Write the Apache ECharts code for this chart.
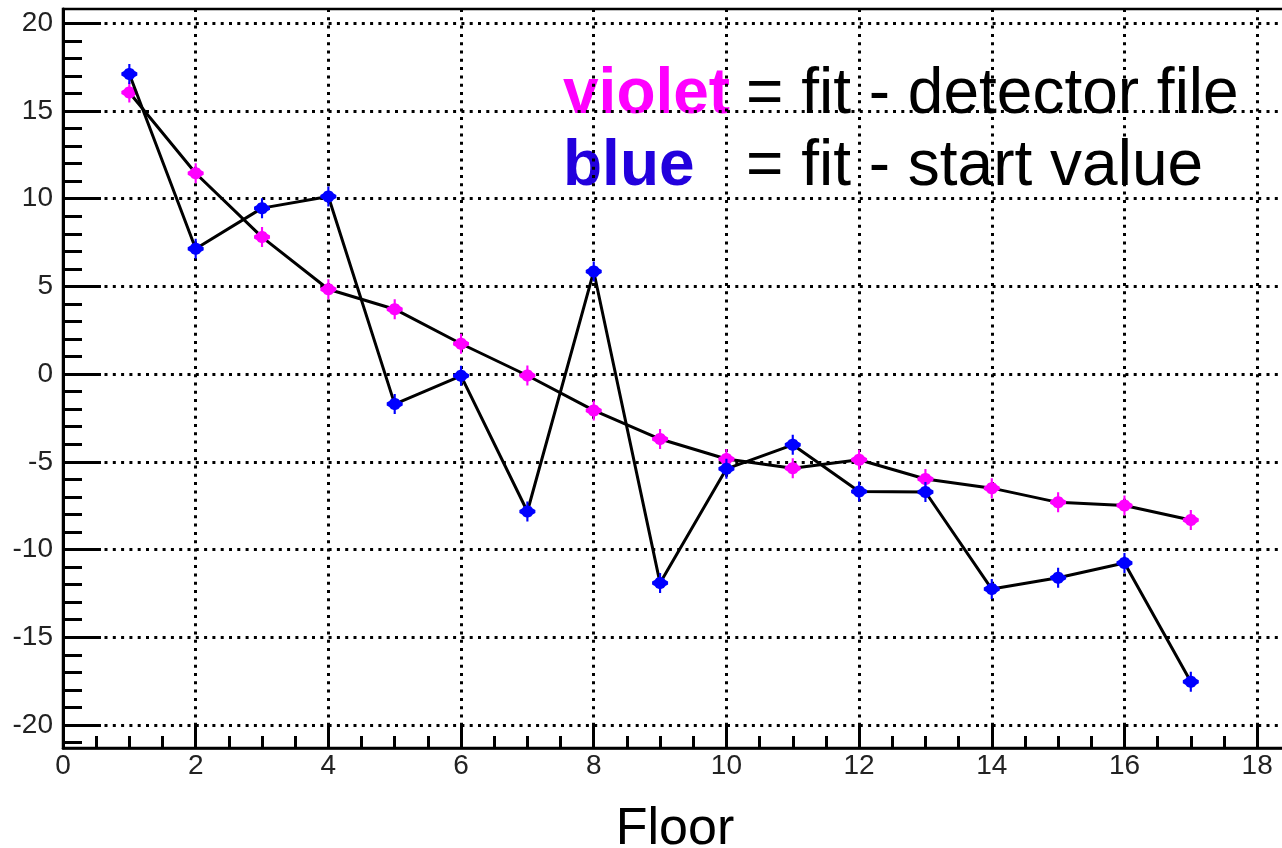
<!DOCTYPE html>
<html>
<head>
<meta charset="utf-8">
<script src="https://cdn.jsdelivr.net/npm/echarts@6/dist/echarts.min.js"></script>
<style>
html,body{margin:0;padding:0;background:#fff;}
#chart{width:1282px;height:848px;}
</style>
</head>
<body>
<div id="chart"></div>
<script>
// ---- data ----
const floors = [1,2,3,4,5,6,7,8,9,10,11,12,13,14,15,16,17];
const violetValues = [16.05, 11.45, 7.81, 4.84, 3.70, 1.73, -0.08, -2.07, -3.70, -4.84, -5.36, -4.88, -5.98, -6.50, -7.31, -7.49, -8.32];
const blueValues = [17.11, 7.14, 9.46, 10.12, -1.71, -0.10, -7.83, 5.85, -11.91, -5.40, -4.03, -6.69, -6.72, -12.25, -11.61, -10.77, -17.53];
const xMajorTicks = [0,2,4,6,8,10,12,14,16,18];
const xMinorTicks = [0,0.5,1,1.5,2,2.5,3,3.5,4,4.5,5,5.5,6,6.5,7,7.5,8,8.5,9,9.5,10,10.5,11,11.5,12,12.5,13,13.5,14,14.5,15,15.5,16,16.5,17,17.5,18];
const yMajorTicks = [-20,-15,-10,-5,0,5,10,15,20];
const yMinorTicks = [-21,-20,-19,-18,-17,-16,-15,-14,-13,-12,-11,-10,-9,-8,-7,-6,-5,-4,-3,-2,-1,0,1,2,3,4,5,6,7,8,9,10,11,12,13,14,15,16,17,18,19,20];
const xTitle = 'Floor';
const legendLines = [
  {word: 'violet', rest: '= fit - detector file', color: '#ff00ff'},
  {word: 'blue', rest: '= fit - start value', color: '#2200dd'}
];

// ---- chart ----
const chart = echarts.init(document.getElementById('chart'), null, {renderer: 'canvas'});
const FONT = '"Liberation Sans", Arial, sans-serif';
const markerPath = 'path://M-1,-10 L1,-10 L1,-6 L3.5,-5 L5,-3 L7.5,-1.5 L7.5,1.5 L5,3 L3.5,5 L1,6 L1,10 L-1,10 L-1,6 L-3.5,5 L-5,3 L-7.5,1.5 L-7.5,-1.5 L-5,-3 L-3.5,-5 L-1,-6 Z';
const dotted = {color: '#000', width: 3, type: [3, 5.3]};

function pairs(xs, ys){ return xs.map((x,i)=>[x, ys[i]]); }

const graphics = [];
legendLines.forEach((l, i) => {
  const y = 92 + i * 72;
  graphics.push({type:'text', left: 563, top: y - 29, style:{text: l.word, fill: l.color, font: 'bold 64px ' + FONT}});
  graphics.push({type:'text', left: 746, top: y - 29, style:{text: l.rest, fill: '#000', font: '64px ' + FONT}});
});

chart.setOption({
  animation: false,
  backgroundColor: '#fff',
  grid: {left: 63, right: -5, top: 9, bottom: 100, containLabel: false, outerBoundsMode: 'none',
         show: true, borderColor: '#000', borderWidth: 2.5, backgroundColor: 'transparent'},
  xAxis: [
    {
      type: 'value', min: 0, max: 18.45, position: 'bottom',
      name: xTitle, nameLocation: 'middle', nameGap: 56,
      nameTextStyle: {fontSize: 52, color: '#000', fontFamily: FONT},
      axisLine: {show: true, onZero: false, lineStyle: {color: '#000', width: 2.5}},
      axisTick: {show: true, inside: true, length: 23, customValues: xMajorTicks, lineStyle: {color: '#000', width: 3}},
      axisLabel: {show: true, customValues: xMajorTicks, margin: 4, fontSize: 28, color: '#222', fontFamily: FONT},
      splitLine: {show: true, lineStyle: dotted}
    },
    {
      type: 'value', min: 0, max: 18.45, position: 'bottom',
      axisLine: {show: false, onZero: false},
      axisTick: {show: true, inside: true, length: 12, customValues: xMinorTicks, lineStyle: {color: '#000', width: 3}},
      axisLabel: {show: false},
      splitLine: {show: false}
    }
  ],
  yAxis: [
    {
      type: 'value', min: -21.31, max: 20.81, position: 'left',
      axisLine: {show: true, onZero: false, lineStyle: {color: '#000', width: 3}},
      axisTick: {show: true, inside: true, length: 38, customValues: yMajorTicks, lineStyle: {color: '#000', width: 3}},
      axisLabel: {show: true, customValues: yMajorTicks, margin: 10, fontSize: 28, color: '#222', fontFamily: FONT},
      splitLine: {show: true, lineStyle: dotted}
    },
    {
      type: 'value', min: -21.31, max: 20.81, position: 'left',
      axisLine: {show: false, onZero: false},
      axisTick: {show: true, inside: true, length: 19, customValues: yMinorTicks, lineStyle: {color: '#000', width: 3}},
      axisLabel: {show: false},
      splitLine: {show: false}
    }
  ],
  series: [
    {
      type: 'line', xAxisIndex: 0, yAxisIndex: 0,
      data: pairs(floors, violetValues),
      symbol: markerPath, symbolSize: [16, 20],
      itemStyle: {color: '#ff00ff'},
      lineStyle: {color: '#000', width: 3},
      z: 3
    },
    {
      type: 'line', xAxisIndex: 0, yAxisIndex: 0,
      data: pairs(floors, blueValues),
      symbol: markerPath, symbolSize: [16, 20],
      itemStyle: {color: '#0000ff'},
      lineStyle: {color: '#000', width: 3},
      z: 4
    }
  ],
  graphic: graphics
});
</script>
</body>
</html>
